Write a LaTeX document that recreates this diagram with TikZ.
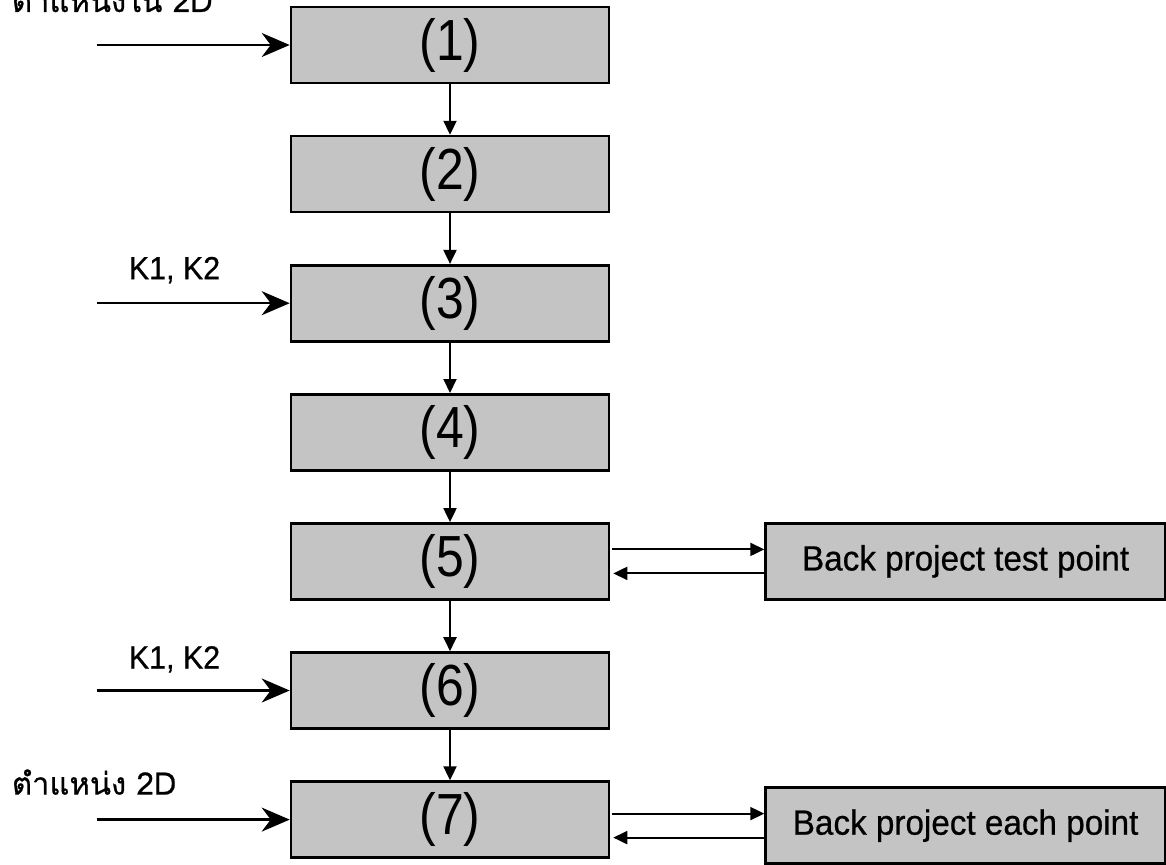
\documentclass[tikz,border=0pt]{standalone}
\usepackage{fontspec}
\setmainfont{Liberation Sans}
\newfontfamily\thaifont[Script=Thai,FakeBold=0.6]{Loma}
\newfontfamily\stagefont[FakeStretch=0.86]{Liberation Sans}
\newfontfamily\notefont[FakeStretch=0.95,FakeBold=0.6]{Liberation Sans}
\usetikzlibrary{arrows.meta,positioning}
\definecolor{boxgray}{HTML}{C4C4C4}

\begin{document}
\begin{tikzpicture}[
    x=1pt,y=-1pt,
    node distance=50.5pt and 154pt,
    box/.style={draw=black,line width=2.6pt,fill=boxgray,minimum width=#1,minimum height=76pt,inner sep=0pt,align=center},
    box/.default=318pt,
    num/.style={font=\stagefont\fontsize{58}{60}\selectfont},
    side/.style={box=400pt,font=\notefont\fontsize{35}{40}\selectfont},
    lbl/.style={anchor=base west,inner sep=0pt,font=\notefont\fontsize{32}{38}\selectfont},
    thai/.style={anchor=base west,inner sep=0pt,font=\thaifont\fontsize{31}{36}\selectfont},
    arr/.style={-{Triangle[length=14pt,width=13pt]},line width=2pt},
    inarr/.style={-{Stealth[length=28pt,width=24pt,inset=9pt]},line width=2.5pt}
]
\useasboundingbox (0,0) rectangle (1166,864);

% main column
\node[box,num] (b1) at (450,45) {(1)};
\node[box,num,below=of b1] (b2) {(2)};
\node[box,num,below=of b2] (b3) {(3)};
\node[box,num,below=of b3] (b4) {(4)};
\node[box,num,below=of b4] (b5) {(5)};
\node[box,num,below=of b5] (b6) {(6)};
\node[box,num,below=of b6] (b7) {(7)};

% back projection boxes
\node[side,right=of b5] (s5) {Back project test point};
\node[side,right=of b7,yshift=-6pt] (s7) {Back project each point};

\draw[arr] (b1) -- (b2);
\draw[arr] (b2) -- (b3);
\draw[arr] (b3) -- (b4);
\draw[arr] (b4) -- (b5);
\draw[arr] (b5) -- (b6);
\draw[arr] (b6) -- (b7);

\draw[arr,shorten <=2pt] ([yshift=12pt]b5.east) -- ([yshift=12pt]s5.west);
\draw[arr,shorten >=3pt] ([yshift=-12pt]s5.west) -- ([yshift=-12pt]b5.east);
\coordinate (r7) at ([yshift=12pt]s7.west);
\coordinate (l7) at ([yshift=-12pt]s7.west);
\draw[arr,shorten <=2pt] (r7 -| b7.east) -- (r7);
\draw[arr,shorten >=3pt] (l7) -- (l7 -| b7.east);

% inputs
\coordinate[left=193pt of b1.west] (in1);
\coordinate[left=193pt of b3.west] (in3);
\coordinate[left=193pt of b6.west] (in6);
\coordinate[left=193pt of b7.west] (in7);
\draw[inarr] (in1) -- (b1);
\draw[inarr] (in3) -- (b3);
\draw[inarr] (in6) -- (b6);
\draw[inarr] (in7) -- (b7);

\node[thai] (t1) at ([shift={(-85pt,33pt)}]in1) {ตำแหน่งใน 2D};
\node[lbl] (k3) at ([shift={(32pt,24pt)}]in3) {K1, K2};
\node[lbl] (k6) at ([shift={(32pt,22pt)}]in6) {K1, K2};
\node[thai] (t7) at ([shift={(-85pt,25pt)}]in7) {ตำแหน่ง 2D};
\end{tikzpicture}
\end{document}
